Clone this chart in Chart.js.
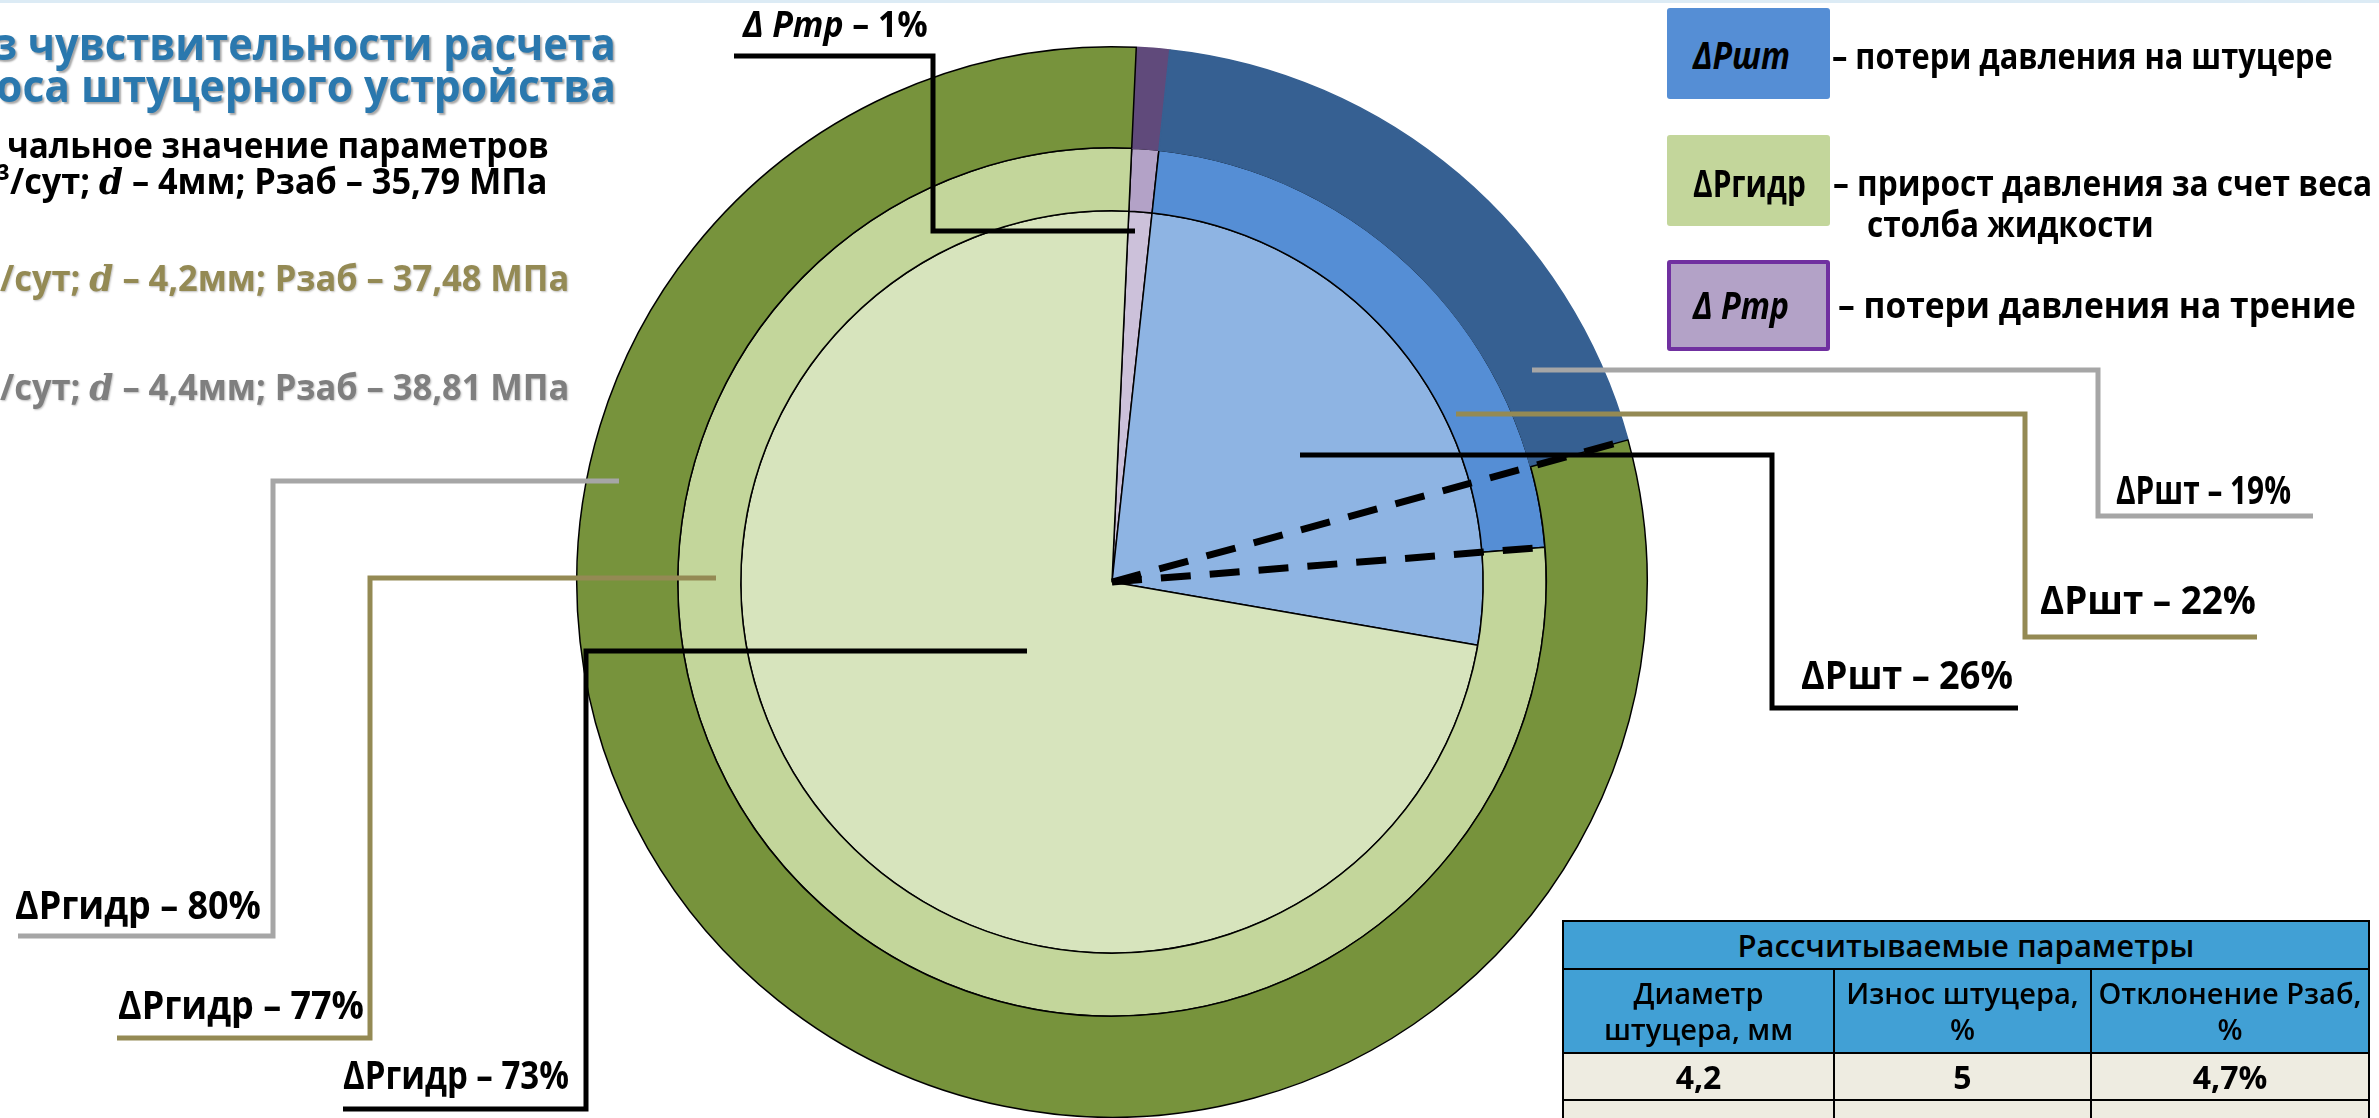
<!DOCTYPE html>
<html lang="ru">
<head>
<meta charset="utf-8">
<script src="https://cdn.jsdelivr.net/npm/chart.js@4.4.1/dist/chart.umd.min.js"></script>
<style>
  html, body { margin: 0; padding: 0; }
  body { width: 2379px; height: 1118px; position: relative; overflow: hidden; background: #fff;
         font-family: "Open Sans", "DejaVu Sans", sans-serif; }
  #topline { position: absolute; left: 0; top: 0; width: 100%; height: 3px; background: #DCEBF5; }
  #wrap { position: absolute; left: 0; top: 0; width: 2379px; height: 1118px; }
  .t { position: absolute; white-space: nowrap; font-weight: 700; line-height: 1; transform-origin: 0 50%; color: #000; }
  .shadow { text-shadow: 2px 2px 2px rgba(0,0,0,0.35); }
  .soft { text-shadow: 1px 1px 2px rgba(0,0,0,0.25); }
  .m { font-family: "DejaVu Serif", serif; font-style: italic; }
  .box { position: absolute; left: 1667px; width: 163px; height: 91px; box-sizing: border-box; border-radius: 3px; }
  #tbl { position: absolute; left: 1562px; top: 920px; width: 806px; border-collapse: collapse; table-layout: fixed;
         font-family: "Open Sans", sans-serif; color: #000; }
  #tbl td, #tbl th { border: 2px solid #000; text-align: center; padding: 0; white-space: nowrap; overflow: hidden; }
  #tbl th { background: #41A0D5; font-weight: 600; font-size: 29px; line-height: 36px; }
  #tbl th.big { font-size: 31px; }
  #tbl td { background: #EEECE1; font-weight: 700; font-size: 32px; }
</style>
</head>
<body>
<div id="topline"></div>
<div id="wrap"><canvas id="pie"></canvas></div>

<div class="box" style="top:8px;background:#558ED5;"></div>
<div class="box" style="top:135px;background:#C3D69B;"></div>
<div class="box" style="top:260px;background:#B3A2C7;border:4px solid #7030A0;"></div>

<table id="tbl">
  <colgroup><col style="width:271px"><col style="width:257px"><col style="width:278px"></colgroup>
  <tr style="height:48px"><th colspan="3" class="big" id="tblTitle"></th></tr>
  <tr style="height:84px"><th></th><th></th><th></th></tr>
  <tr style="height:47px"><td></td><td></td><td></td></tr>
  <tr style="height:50px"><td></td><td></td><td></td></tr>
</table>

<script>
// ---------------- данные ----------------
var categories = ['Δ Ртр', 'ΔРшт', 'ΔРгидр'];
var outerVals  = [1, 19, 80];   // d = 4,4 мм
var middleVals = [1, 22, 77];   // d = 4,2 мм
var innerVals  = [1, 26, 73];   // d = 4 мм

var tableTitle = 'Рассчитываемые параметры';
var tableHead  = ['Диаметр<br>штуцера, мм', 'Износ штуцера,<br>%', 'Отклонение Рзаб,<br>%'];
var tableRow   = ['4,2', '5', '4,7%'];

// таблица
document.getElementById('tblTitle').textContent = tableTitle;
var rows = document.querySelectorAll('#tbl tr');
rows[1].querySelectorAll('th').forEach(function (th, i) { th.innerHTML = tableHead[i]; });
rows[2].querySelectorAll('td').forEach(function (td, i) { td.textContent = tableRow[i]; });

// ---------------- тексты ----------------
var texts = [
  // заголовок (обрезан слева)
  { h: 'з чувствительности расчета', x0: -6, x1: 616, cy: 46, fs: 45, c: '#2A78AE', cls: 'shadow' },
  { h: 'оса штуцерного устройства', x0: -4, x1: 616, cy: 88, fs: 45, c: '#2A78AE', cls: 'shadow' },
  { h: 'чальное значение параметров', x0: 7, x1: 549, cy: 147, fs: 35 },
  { h: '³/сут; <i class="m">d</i> – 4мм; Рзаб – 35,79 МПа', x0: -3, x1: 548, cy: 183, fs: 35 },
  { h: '/сут; <i class="m">d</i> – 4,2мм; Рзаб – 37,48 МПа', x0: 0, x1: 570, cy: 280, fs: 35, c: '#948A54', cls: 'soft' },
  { h: '/сут; <i class="m">d</i> – 4,4мм; Рзаб – 38,81 МПа', x0: 0, x1: 570, cy: 389, fs: 35, c: '#7F7F7F', cls: 'soft' },
  // легенда
  { h: '<i>' + categories[1] + '</i>', x0: 1693, x1: 1790, cy: 57, fs: 38 },
  { h: categories[2], x0: 1693, x1: 1806, cy: 185, fs: 38 },
  { h: '<i>' + categories[0] + '</i>', x0: 1693, x1: 1789, cy: 307, fs: 38 },
  { h: '– потери давления на штуцере', x0: 1832, x1: 2333, cy: 58, fs: 35 },
  { h: '– прирост давления за счет веса', x0: 1833, x1: 2372, cy: 185, fs: 35 },
  { h: 'столба жидкости', x0: 1867, x1: 2154, cy: 226, fs: 35 },
  { h: '– потери давления на трение', x0: 1838, x1: 2356, cy: 307, fs: 35 },
  // подписи колец
  { h: '<i>' + categories[0] + '</i> – ' + innerVals[0] + '%', x0: 743, x1: 928, cy: 27, fs: 36 },
  { h: categories[1] + ' – ' + outerVals[1] + '%', x0: 2116, x1: 2291, cy: 492, fs: 40 },
  { h: categories[1] + ' – ' + middleVals[1] + '%', x0: 2040, x1: 2256, cy: 602, fs: 40 },
  { h: categories[1] + ' – ' + innerVals[1] + '%', x0: 1801, x1: 2013, cy: 677, fs: 40 },
  { h: categories[2] + ' – ' + outerVals[2] + '%', x0: 15, x1: 261, cy: 907, fs: 40 },
  { h: categories[2] + ' – ' + middleVals[2] + '%', x0: 118, x1: 364, cy: 1007, fs: 40 },
  { h: categories[2] + ' – ' + innerVals[2] + '%', x0: 343, x1: 569, cy: 1077, fs: 40 }
];

texts.forEach(function (o) {
  var el = document.createElement('div');
  el.className = 't' + (o.cls ? ' ' + o.cls : '');
  el.innerHTML = o.h;
  el.style.fontSize = o.fs + 'px';
  el.style.left = o.x0 + 'px';
  el.style.top = (o.cy - 0.58 * o.fs) + 'px';
  if (o.c) el.style.color = o.c;
  document.body.appendChild(el);
  var w = el.offsetWidth;
  el.style.transform = 'scaleX(' + ((o.x1 - o.x0) / w).toFixed(3) + ')';
});

// ---------------- выноски ----------------
var leaders = [
  { c: '#A6A6A6', p: [[619, 481], [273, 481], [273, 936], [18, 936]] },
  { c: '#948A54', p: [[716, 578], [370, 578], [370, 1038], [117, 1038]] },
  { c: '#000000', p: [[1027, 651], [586, 651], [586, 1109], [343, 1109]] },
  { c: '#A6A6A6', p: [[1532, 370], [2098, 370], [2098, 516], [2313, 516]] },
  { c: '#948A54', p: [[1456, 414], [2025, 414], [2025, 637], [2257, 637]] },
  { c: '#000000', p: [[1300, 455], [1772, 455], [1772, 708], [2018, 708]] },
  { c: '#000000', p: [[1135, 231], [933, 231], [933, 56], [734, 56]] }
];

var overlay = {
  id: 'overlay',
  afterDraw: function (chart) {
    var ctx = chart.ctx;
    ctx.save();
    // пунктир по границам ΔРшт внешнего и среднего колец
    [0, 1].forEach(function (di) {
      var arc = chart.getDatasetMeta(di).data[1];
      var a = arc.endAngle, r = arc.outerRadius;
      ctx.beginPath();
      ctx.setLineDash([30, 19]);
      ctx.lineWidth = 7;
      ctx.strokeStyle = '#000';
      ctx.moveTo(arc.x, arc.y);
      ctx.lineTo(arc.x + r * Math.cos(a), arc.y + r * Math.sin(a));
      ctx.stroke();
    });
    ctx.setLineDash([]);
    leaders.forEach(function (l) {
      ctx.beginPath();
      ctx.lineWidth = 5;
      ctx.lineJoin = 'miter';
      ctx.strokeStyle = l.c;
      l.p.forEach(function (pt, i) { if (i === 0) ctx.moveTo(pt[0], pt[1]); else ctx.lineTo(pt[0], pt[1]); });
      ctx.stroke();
    });
    ctx.restore();
  }
};

// ---------------- диаграмма ----------------
var ctx = document.getElementById('pie').getContext('2d');
var pie = new Chart(ctx, {
  type: 'doughnut',
  data: {
    labels: categories,
    datasets: [
      { data: outerVals, weight: 101, backgroundColor: ['#604A7B', '#366092', '#77933C'],
        borderColor: ['#604A7B', '#366092', '#000'], borderWidth: 1.5 },
      { data: middleVals, weight: 63, backgroundColor: ['#B3A2C7', '#558ED5', '#C3D69B'],
        borderColor: '#000', borderWidth: 1.5 },
      { data: innerVals, weight: 371, backgroundColor: ['#CCC1DA', '#8EB4E3', '#D7E4BD'],
        borderColor: '#000', borderWidth: 1.5 }
    ]
  },
  options: {
    responsive: true,
    maintainAspectRatio: false,
    animation: false,
    events: [],
    cutout: 0,
    rotation: 2.6,
    layout: { padding: { left: 576, right: 731, top: 46, bottom: 0 } },
    plugins: { legend: { display: false }, tooltip: { enabled: false } }
  },
  plugins: [overlay]
});
</script>
</body>
</html>
